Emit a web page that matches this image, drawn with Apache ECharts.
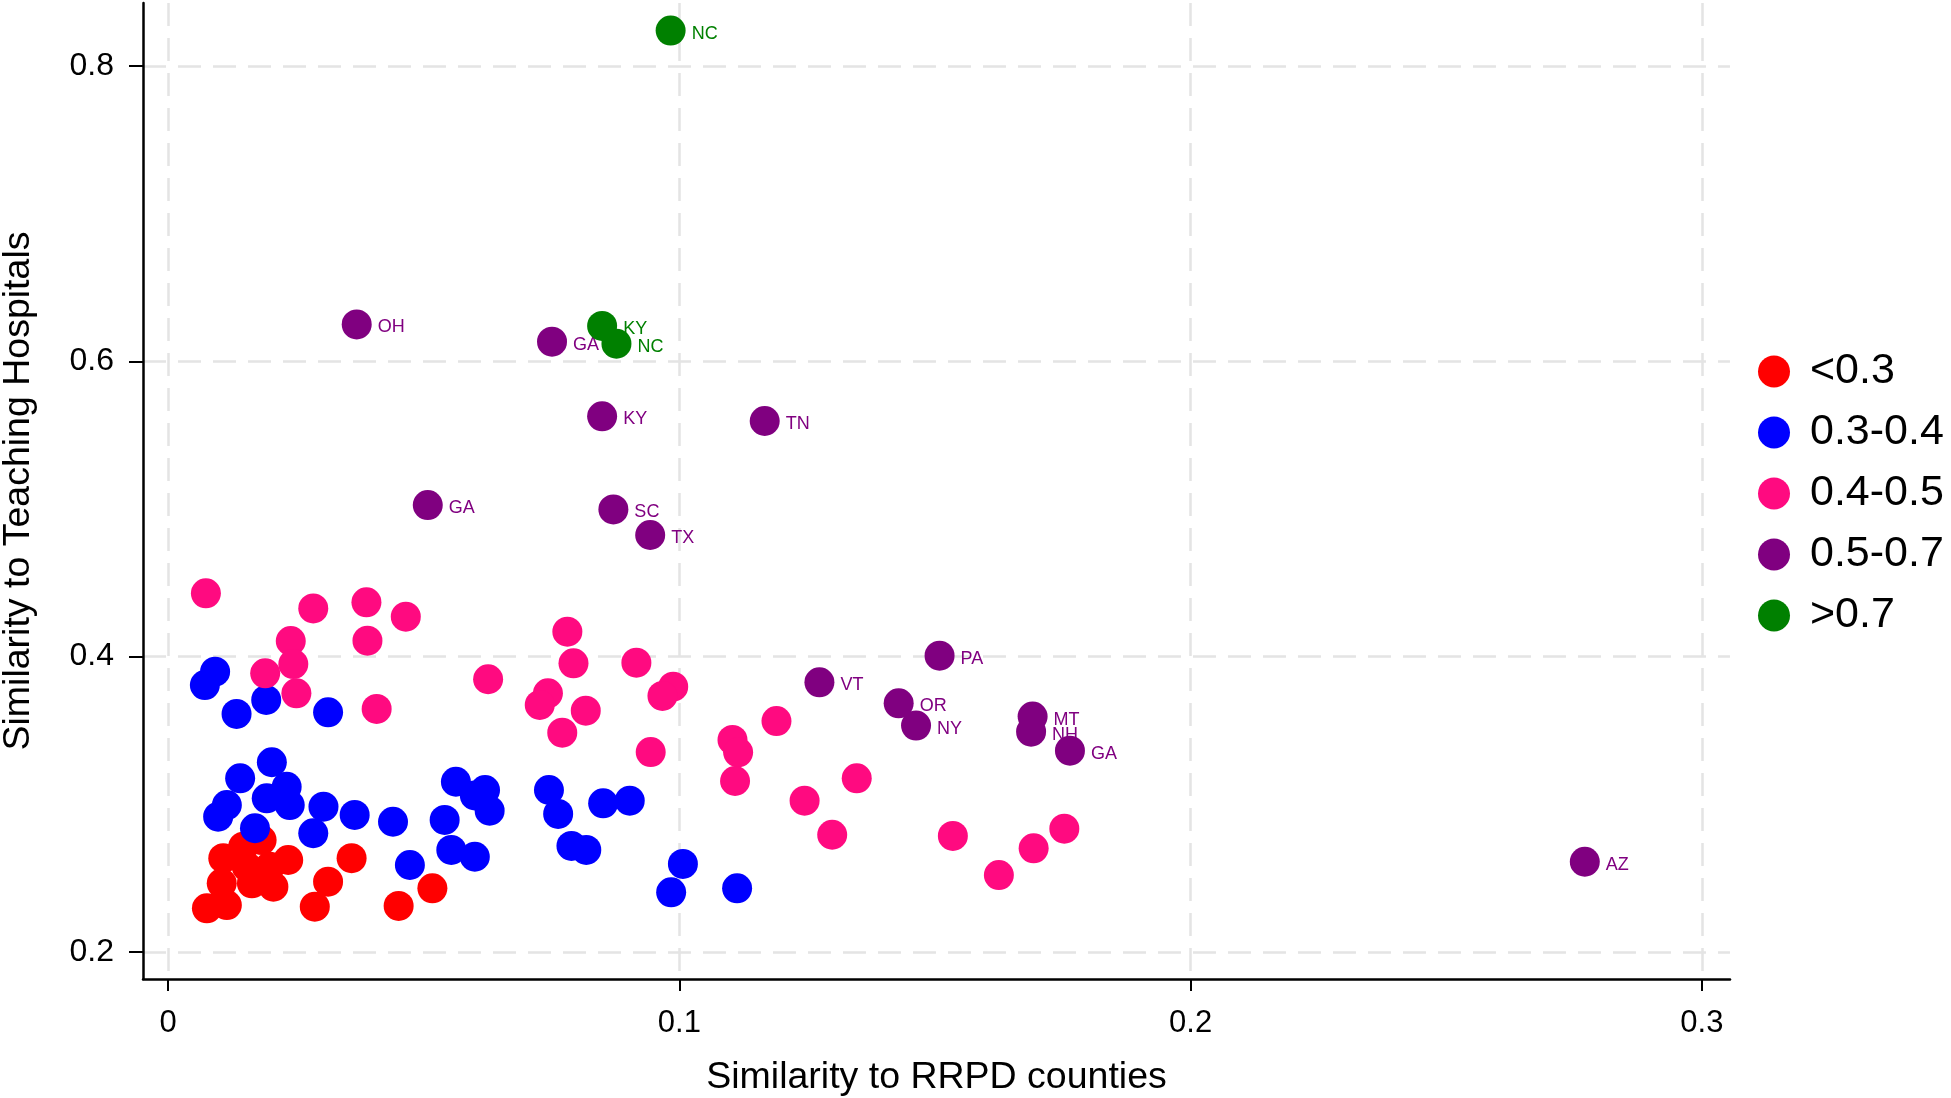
<!DOCTYPE html>
<html>
<head>
<meta charset="utf-8">
<script src="https://cdn.jsdelivr.net/npm/echarts@6/dist/echarts.min.js"></script>
<style>html,body{margin:0;padding:0;background:#fff;}#c{width:1951px;height:1098px;}</style>
</head>
<body>
<div id="c"></div>
<script>
// ---- data ----
const legendNames = ['<0.3', '0.3-0.4', '0.4-0.5', '0.5-0.7', '>0.7'];
const xTicks = [0, 0.1, 0.2, 0.3];
const yTicks = [0.2, 0.4, 0.6, 0.8];

const lt03 = [
  [0.0076, 0.2296], [0.0115, 0.2318], [0.0105, 0.2465], [0.0108, 0.2635],
  [0.0147, 0.2713], [0.0183, 0.2758], [0.0164, 0.2465], [0.0206, 0.2442],
  [0.0199, 0.2578], [0.0154, 0.2578], [0.0235, 0.2623], [0.0313, 0.2476],
  [0.0287, 0.2307], [0.0359, 0.2635], [0.0451, 0.2312], [0.0517, 0.2431]
];
const b0304 = [
  [0.0092, 0.3898], [0.0072, 0.3808], [0.0134, 0.3612], [0.0192, 0.3707],
  [0.0313, 0.3623], [0.0203, 0.3285], [0.0141, 0.3176], [0.0232, 0.3119],
  [0.0238, 0.2995], [0.0115, 0.2995], [0.0098, 0.2916], [0.0170, 0.2838],
  [0.0193, 0.3041], [0.0304, 0.2984], [0.0284, 0.2804], [0.0365, 0.2928],
  [0.0440, 0.2882], [0.0541, 0.2894], [0.0563, 0.3153], [0.0600, 0.3060],
  [0.0620, 0.3097], [0.0629, 0.2957], [0.0554, 0.2691], [0.0600, 0.2645],
  [0.0473, 0.2589], [0.0745, 0.3097], [0.0763, 0.2935], [0.0851, 0.3007],
  [0.0903, 0.3025], [0.0789, 0.2718], [0.0818, 0.2691], [0.1007, 0.2596],
  [0.0984, 0.2404], [0.1113, 0.2431]
];
const b0405 = [
  [0.0074, 0.4429], [0.0284, 0.4327], [0.0388, 0.4368], [0.0465, 0.4271],
  [0.0390, 0.4108], [0.0240, 0.4106], [0.0245, 0.3950], [0.0190, 0.3887],
  [0.0251, 0.3752], [0.0408, 0.3646], [0.0626, 0.3847], [0.0781, 0.4169],
  [0.0793, 0.3955], [0.0916, 0.3959], [0.0988, 0.3797], [0.0967, 0.3734],
  [0.0743, 0.3752], [0.0727, 0.3673], [0.0817, 0.3634], [0.0771, 0.3485],
  [0.0944, 0.3354], [0.1104, 0.3436], [0.1115, 0.3352], [0.1109, 0.3158],
  [0.1190, 0.3564], [0.1347, 0.3176], [0.1245, 0.3025], [0.1299, 0.2794],
  [0.1535, 0.2786], [0.1625, 0.2521], [0.1693, 0.2702], [0.1753, 0.2835]
];
const b0507 = [
  [0.0369, 0.6250, 'OH'], [0.0751, 0.6133, 'GA'], [0.0849, 0.5628, 'KY'],
  [0.1167, 0.5596, 'TN'], [0.0508, 0.5027, 'GA'], [0.0871, 0.4997, 'SC'],
  [0.0943, 0.4824, 'TX'], [0.1509, 0.4007, 'PA'], [0.1274, 0.3826, 'VT'],
  [0.1429, 0.3684, 'OR'], [0.1463, 0.3533, 'NY'], [0.1691, 0.3594, 'MT'],
  [0.1688, 0.3492, 'NH'], [0.1764, 0.3363, 'GA'], [0.2771, 0.2611, 'AZ']
];
const gt07 = [
  [0.0983, 0.8240, 'NC'], [0.0849, 0.6240, 'KY'], [0.0877, 0.6120, 'NC']
];

const colors = ['#FF0000', '#0000FF', '#FF0A80', '#800080', '#008000'];
const groups = [lt03, b0304, b0405, b0507, gt07];

const FONT = '"Liberation Sans", Arial, Helvetica, sans-serif';

const series = groups.map((g, i) => ({
  name: legendNames[i],
  type: 'scatter',
  data: g,
  symbol: 'circle',
  symbolSize: 30,
  itemStyle: { color: colors[i], opacity: 1 },
  emphasis: { disabled: true },
  label: {
    show: i >= 3,
    position: 'right',
    distance: 6,
    formatter: p => p.value[2] || '',
    color: colors[i],
    fontSize: 18,
    fontFamily: FONT,
    offset: [0, 3]
  },
  z: 2 + i
}));

const chart = echarts.init(document.getElementById('c'), null, { renderer: 'canvas' });
chart.setOption({
  backgroundColor: '#ffffff',
  animation: false,
  grid: { left: 143, right: 221, top: 3, bottom: 119, containLabel: false, outerBoundsMode: 'none' },
  legend: {
    orient: 'vertical',
    left: 1753,
    top: 345,
    icon: 'circle',
    itemWidth: 62,
    itemHeight: 32,
    itemGap: 18,
    data: legendNames,
    textStyle: { fontSize: 43, lineHeight: 43, color: '#000', fontFamily: FONT },
    selectedMode: false
  },
  xAxis: {
    type: 'value',
    min: -0.0049,
    max: 0.3055,
    name: 'Similarity to RRPD counties',
    nameLocation: 'middle',
    nameGap: 80,
    nameTextStyle: { fontSize: 37.5, color: '#000', fontFamily: FONT },
    axisLine: { show: true, onZero: false, lineStyle: { color: '#000', width: 2.5 } },
    axisTick: { show: true, length: 12, customValues: xTicks, lineStyle: { color: '#000', width: 2 } },
    axisLabel: { customValues: xTicks, fontSize: 31, color: '#000', margin: 29, fontFamily: FONT,
      formatter: v => String(+v.toFixed(1)) },
    splitLine: { show: true, lineStyle: { color: '#e4e4e4', width: 2.5, type: [23, 12] } }
  },
  yAxis: {
    type: 'value',
    min: 0.1817,
    max: 0.8427,
    name: 'Similarity to Teaching Hospitals',
    nameLocation: 'middle',
    nameRotate: 90,
    nameGap: 105,
    nameTextStyle: { fontSize: 37.5, color: '#000', fontFamily: FONT },
    axisLine: { show: true, onZero: false, lineStyle: { color: '#000', width: 2.5 } },
    axisTick: { show: true, length: 14, customValues: yTicks, lineStyle: { color: '#000', width: 2 } },
    axisLabel: { customValues: yTicks, fontSize: 32, color: '#000', margin: 29, fontFamily: FONT,
      formatter: v => String(+v.toFixed(1)) },
    splitLine: { show: true, lineStyle: { color: '#e4e4e4', width: 2.5, type: [23, 12] } }
  },
  series: series
});
</script>
</body>
</html>
